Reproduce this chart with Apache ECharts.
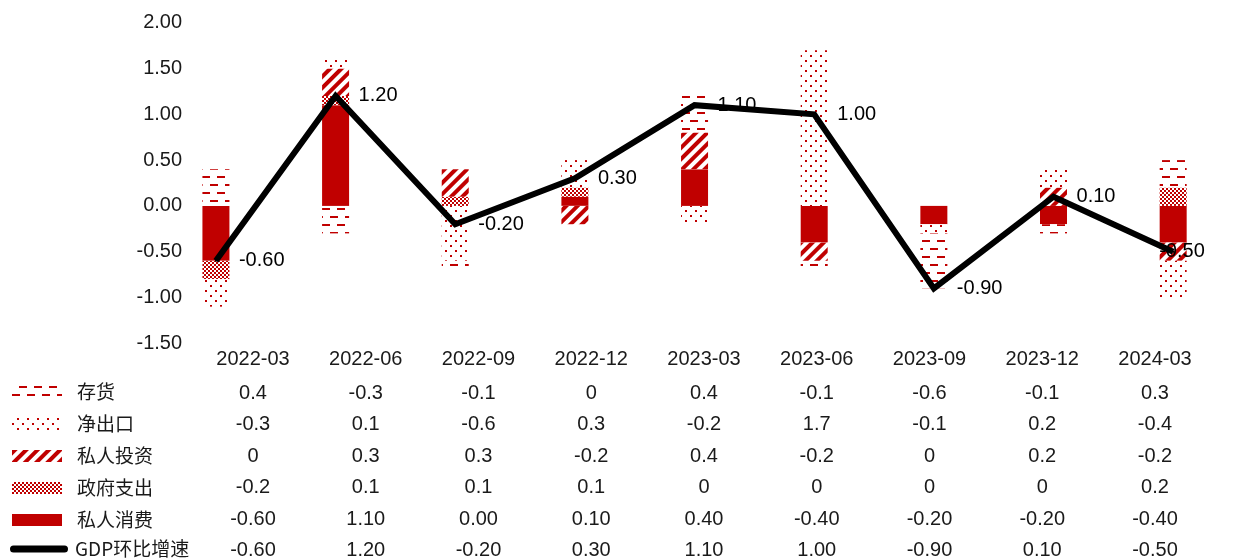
<!DOCTYPE html>
<html>
<head>
<meta charset="utf-8">
<script src="https://cdn.jsdelivr.net/npm/echarts@6/dist/echarts.min.js"></script>
<style>
  html, body { margin: 0; padding: 0; background: #fff; }
  #chart { width: 1233px; height: 559px; }
</style>
</head>
<body>
<div id="chart"></div>
<script>
const categories = ["2022-03", "2022-06", "2022-09", "2022-12", "2023-03", "2023-06", "2023-09", "2023-12", "2024-03"];

const inventory = [0.4, -0.3, -0.1, 0, 0.4, -0.1, -0.6, -0.1, 0.3];          // 存货
const netExports = [-0.3, 0.1, -0.6, 0.3, -0.2, 1.7, -0.1, 0.2, -0.4];       // 净出口
const privateInvestment = [0, 0.3, 0.3, -0.2, 0.4, -0.2, 0, 0.2, -0.2];      // 私人投资
const govSpending = [-0.2, 0.1, 0.1, 0.1, 0, 0, 0, 0, 0.2];                  // 政府支出
const privateConsumption = [-0.6, 1.1, 0, 0.1, 0.4, -0.4, -0.2, -0.2, -0.4]; // 私人消费
const gdpQoq = [-0.6, 1.2, -0.2, 0.3, 1.1, 1.0, -0.9, 0.1, -0.5];            // GDP环比增速

const yMin = -1.5;
const yMax = 2;
const yStep = 0.5;

const RED = "#C00000";
const TEXT = "#1a1a1a";
const NUM_FONT = "Liberation Sans, Arial, sans-serif";
const CJK_FONT = "Noto Sans CJK SC, sans-serif";

// 表格行（顺序同图例）
const rowNames = ["存货", "净出口", "私人投资", "政府支出", "私人消费", "GDP环比增速"];
const rowValues = [inventory, netExports, privateInvestment, govSpending, privateConsumption, gdpQoq];
const rowFixed = [false, false, false, false, true, true];

const tableData = [];
rowValues.forEach((vals, r) => {
  vals.forEach((v, c) => {
    tableData.push({
      name: rowFixed[r] ? v.toFixed(2) : String(v),
      value: [categories[c], rowNames[r]]
    });
  });
});

// 花纹
const decals = {
  inventory: {
    symbol: "rect", symbolSize: 1, symbolKeepAspect: false, color: RED,
    dashArrayX: [[8, 7], [0, 7, 8, 0]], dashArrayY: [2, 6]
  },
  netExports: {
    symbol: "rect", symbolSize: 1, symbolKeepAspect: false, color: RED,
    dashArrayX: [[2, 8], [0, 5, 2, 3]], dashArrayY: [2, 2.3]
  },
  investment: {
    symbol: "rect", symbolSize: 1, symbolKeepAspect: false, color: RED,
    dashArrayX: [[1, 0]], dashArrayY: [4, 4], rotation: -Math.PI / 4
  },
  gov: {
    symbol: "rect", symbolSize: 1, symbolKeepAspect: false, color: RED,
    dashArrayX: [[2, 2], [0, 2, 2, 0]], dashArrayY: [2, 0]
  }
};

const barBase = {
  type: "bar",
  stack: "total",
  barWidth: 27,
  xAxisIndex: 0,
  yAxisIndex: 0
};

const legendText = {
  fontFamily: CJK_FONT,
  fontSize: 19,
  lineHeight: 20,
  color: TEXT
};

const lastIdx = gdpQoq.length - 1;

const chart = echarts.init(document.getElementById("chart"));
const option = {
  backgroundColor: "#fff",
  animation: false,
  legend: [
    {
      orient: "vertical",
      left: 12,
      top: 382,
      padding: 0,
      itemWidth: 50,
      itemHeight: 12,
      itemGap: 12,
      selectedMode: false,
      data: [
        { name: "存货", icon: "rect" },
        { name: "净出口", icon: "rect" },
        { name: "私人投资", icon: "rect" },
        { name: "政府支出", icon: "rect" },
        { name: "私人消费", icon: "rect" }
      ],
      textStyle: { ...legendText, padding: [0, 0, 0, 10] }
    },
    {
      orient: "vertical",
      left: 10,
      top: 539,
      padding: 0,
      itemWidth: 58,
      itemHeight: 7,
      selectedMode: false,
      data: [
        { name: "GDP环比增速", icon: "path://M3.5,0H54.5A3.5,3.5,0,0,1,54.5,7H3.5A3.5,3.5,0,0,1,3.5,0Z" }
      ],
      textStyle: { ...legendText, padding: [0, 0, 0, 2] }
    }
  ],
  grid: [
    { left: 156.1, top: 22.7, width: 1095.75, height: 320.6 },
    { left: 196.6, top: 393, width: 1014.75, height: 157.5 }
  ],
  xAxis: [
    { type: "category", gridIndex: 0, data: categories, show: false },
    {
      type: "category", gridIndex: 1, data: categories, position: "top",
      axisLine: { show: false }, axisTick: { show: false },
      axisLabel: { fontFamily: NUM_FONT, fontSize: 20, color: TEXT, margin: 24 }
    }
  ],
  yAxis: [
    {
      type: "value", gridIndex: 0, min: yMin, max: yMax, interval: yStep,
      offset: -34,
      splitLine: { show: false }, axisLine: { show: false }, axisTick: { show: false },
      axisLabel: {
        fontFamily: NUM_FONT, fontSize: 20, color: TEXT, margin: 8,
        formatter: v => v.toFixed(2)
      }
    },
    { type: "category", gridIndex: 1, data: rowNames, inverse: true, boundaryGap: false, show: false }
  ],
  series: [
    { ...barBase, name: "私人消费", itemStyle: { color: RED }, data: privateConsumption },
    { ...barBase, name: "政府支出", itemStyle: { color: "#fff", decal: decals.gov }, data: govSpending },
    { ...barBase, name: "私人投资", itemStyle: { color: "#fff", decal: decals.investment }, data: privateInvestment },
    { ...barBase, name: "净出口", itemStyle: { color: "#fff", decal: decals.netExports }, data: netExports },
    { ...barBase, name: "存货", itemStyle: { color: "#fff", decal: decals.inventory }, data: inventory },
    {
      name: "GDP环比增速",
      type: "line",
      xAxisIndex: 0,
      yAxisIndex: 0,
      z: 5,
      symbol: "circle",
      symbolSize: 2,
      itemStyle: { color: "#000" },
      lineStyle: { color: "#000", width: 6, join: "miter" },
      label: {
        show: true,
        position: "right",
        distance: 22,
        fontFamily: NUM_FONT,
        fontSize: 20,
        color: "#000",
        formatter: p => p.value.toFixed(2)
      },
      data: gdpQoq.map((v, i) => i === lastIdx ? { value: v, label: { distance: -15 } } : v)
    },
    {
      name: "表格",
      type: "scatter",
      xAxisIndex: 1,
      yAxisIndex: 1,
      silent: true,
      symbol: "circle",
      symbolSize: 1,
      itemStyle: { color: "rgba(0,0,0,0)" },
      label: {
        show: true,
        position: "inside",
        formatter: "{b}",
        fontFamily: NUM_FONT,
        fontSize: 20,
        color: TEXT,
        opacity: 1
      },
      data: tableData
    }
  ]
};
chart.setOption(option);
</script>
</body>
</html>
